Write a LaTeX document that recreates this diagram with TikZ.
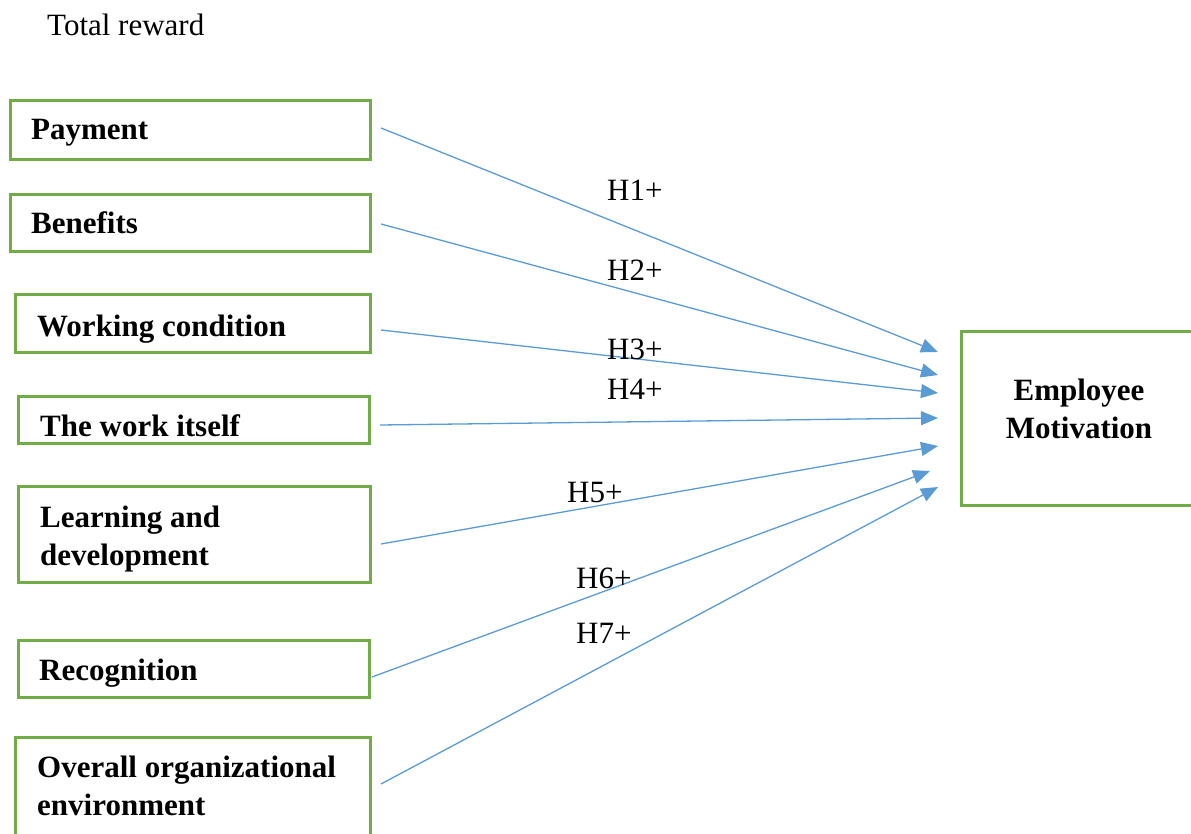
\documentclass[tikz,border=0pt]{standalone}
\usepackage{fontspec}
\setmainfont{Liberation Serif}
\usetikzlibrary{arrows.meta}
\definecolor{boxgreen}{HTML}{70AD47}
\definecolor{arrblue}{HTML}{5B9BD5}
\begin{document}
\begin{tikzpicture}[x=1pt,y=-1pt,
  box/.style={draw=boxgreen,line width=3pt,rectangle,inner sep=0pt},
  txt/.style={anchor=base west,inner sep=0pt,font=\fontsize{31}{38}\selectfont\bfseries,align=left},
  lbl/.style={anchor=base west,inner sep=0pt,font=\fontsize{31}{38}\selectfont},
  arr/.style={draw=arrblue,line width=1.3pt,-{Triangle[length=17pt,width=14pt]}}]
\useasboundingbox (0,0) rectangle (1191,834);
\node[lbl] (title) at (47,36) {Total reward};
% boxes
\node[box,minimum width=360,minimum height=59] (pay) at (190.5,130) {};
\node[box,minimum width=360,minimum height=57] (ben) at (190.5,223) {};
\node[box,minimum width=355,minimum height=58] (wor) at (193,323.5) {};
\node[box,minimum width=351,minimum height=47] (its) at (194,420) {};
\node[box,minimum width=352,minimum height=96] (lea) at (194.5,534.5) {};
\node[box,minimum width=351,minimum height=57] (rec) at (194,669) {};
\node[box,minimum width=355,minimum height=120] (ove) at (193,797.5) {};
\node[box,minimum width=258.5,minimum height=174] (emp) at (1090.75,418.5) {};
% box texts (base = baseline of last line)
\node[txt] (payT) at (31,140) {Payment};
\node[txt] (benT) at (31,234) {Benefits};
\node[txt] (worT) at (37,336) {Working condition};
\node[txt] (itsT) at (40,436) {The work itself};
\node[txt] (leaT) at (40,565) {Learning and\\development};
\node[txt] (recT) at (39,680) {Recognition};
\node[txt] (oveT) at (37,815) {Overall organizational\\environment};
\node[anchor=base,inner sep=0pt,font=\fontsize{31}{38}\selectfont\bfseries,align=center] (empT) at (1079,438) {Employee\\Motivation};
% target points
\coordinate (t1) at (938,352);
\coordinate (t2) at (938,375);
\coordinate (t3) at (938,393);
\coordinate (t4) at (938,418);
\coordinate (t5) at (938,446);
\coordinate (t6) at (930,471);
\coordinate (t7) at (938,487);
% connectors
\draw[arr] ([shift={(9,-2)}]pay.east) -- (t1);
\draw[arr] ([shift={(9,1)}]ben.east) -- (t2);
\draw[arr] ([shift={(9,6.5)}]wor.east) -- (t3);
\draw[arr] ([shift={(9,5)}]its.east) -- (t4);
\draw[arr] ([shift={(9,9.5)}]lea.east) -- (t5);
\draw[arr] ([shift={(1,8)}]rec.east) -- (t6);
\draw[arr] ([shift={(9,-13.5)}]ove.east) -- (t7);
% labels
\node[lbl] (h1) at (607,201) {H1+};
\node[lbl] (h2) at (607,280) {H2+};
\node[lbl] (h3) at (607,359) {H3+};
\node[lbl] (h4) at (607,399) {H4+};
\node[lbl] (h5) at (567,502) {H5+};
\node[lbl] (h6) at (576,588) {H6+};
\node[lbl] (h7) at (576,643) {H7+};
\end{tikzpicture}
\end{document}
